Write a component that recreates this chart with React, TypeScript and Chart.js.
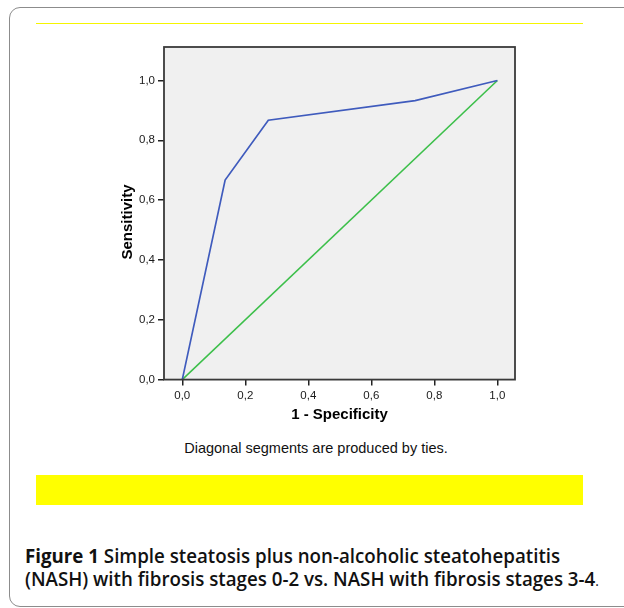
import React, { useEffect, useRef } from "react";
import { Chart, registerables } from "chart.js";

Chart.register(...registerables);

// ---- data ----
const rocFpr = [0, 0.136, 0.273, 0.739, 1.0];
const rocTpr = [0, 0.667, 0.867, 0.933, 1.0];
const refFpr = [0, 1.0];
const refTpr = [0, 1.0];
const tickValues = [0, 0.2, 0.4, 0.6, 0.8, 1.0];
const tickLabels = ["0,0", "0,2", "0,4", "0,6", "0,8", "1,0"];
const xTitle = "1 - Specificity";
const yTitle = "Sensitivity";
const noteText = "Diagonal segments are produced by ties.";
const captionBold = "Figure 1";
const captionLine1 = " Simple steatosis plus non-alcoholic steatohepatitis";
const captionLine2 = "(NASH) with fibrosis stages 0-2 vs. NASH with fibrosis stages 3-4";

const X_MIN = -0.058;
const X_MAX = 1.056;
const Y_MIN = 0;
const Y_MAX = 1.112;

const frameBgPlugin = {
  id: "frameBg",
  beforeDraw(chart: any) {
    const { ctx, chartArea } = chart;
    ctx.save();
    ctx.fillStyle = "#f0f0f0";
    ctx.fillRect(chartArea.left, chartArea.top, chartArea.right - chartArea.left, chartArea.bottom - chartArea.top);
    ctx.restore();
  },
  afterDraw(chart: any) {
    const { ctx, chartArea } = chart;
    ctx.save();
    ctx.strokeStyle = "#3a3a3a";
    ctx.lineWidth = 1.8;
    ctx.strokeRect(chartArea.left, chartArea.top, chartArea.right - chartArea.left, chartArea.bottom - chartArea.top);
    // y axis title
    ctx.fillStyle = "#000";
    ctx.font = "bold 15px 'Liberation Sans', Arial, sans-serif";
    ctx.textAlign = "center";
    ctx.textBaseline = "middle";
    ctx.translate(12.4, 192);
    ctx.rotate(-Math.PI / 2);
    ctx.fillText(yTitle, 0, 0);
    ctx.restore();
  },
};

function RocChart() {
  const ref = useRef<HTMLCanvasElement | null>(null);
  useEffect(() => {
    if (!ref.current) return;
    const setTicks = (scale: any) => {
      scale.ticks = tickValues.map((v) => ({ value: v }));
    };
    const chart = new Chart(ref.current, {
      type: "scatter",
      data: {
        datasets: [
          {
            label: "ROC",
            data: rocFpr.map((x, i) => ({ x, y: rocTpr[i] })),
            showLine: true,
            borderColor: "#3f5bbd",
            borderWidth: 1.7,
            pointRadius: 0,
            tension: 0,
            fill: false,
          },
          {
            label: "Reference",
            data: refFpr.map((x, i) => ({ x, y: refTpr[i] })),
            showLine: true,
            borderColor: "#3cbf4a",
            borderWidth: 1.6,
            pointRadius: 0,
            fill: false,
          },
        ],
      },
      options: {
        animation: false,
        responsive: false,
        maintainAspectRatio: false,
        layout: { padding: { top: 17, right: 20, bottom: 2, left: 0 } },
        plugins: { legend: { display: false }, tooltip: { enabled: false } },
        scales: {
          x: {
            type: "linear",
            min: X_MIN,
            max: X_MAX,
            afterBuildTicks: setTicks,
            afterFit: (s: any) => {
              s.height = 48.4;
            },
            border: { display: false },
            grid: { drawOnChartArea: false, drawTicks: true, tickLength: 6, color: "#222", lineWidth: 1.5 },
            ticks: {
              padding: 3,
              color: "#1a1a1a",
              font: { family: "'Liberation Sans', Arial, sans-serif", size: 11.5 },
              callback: (_v: any, i: number) => tickLabels[i],
              maxRotation: 0,
              autoSkip: false,
            },
            title: {
              display: true,
              text: xTitle,
              color: "#000",
              font: { family: "'Liberation Sans', Arial, sans-serif", size: 15, weight: "bold" },
              padding: { top: 4, bottom: 4 },
            },
          },
          y: {
            type: "linear",
            min: Y_MIN,
            max: Y_MAX,
            afterBuildTicks: setTicks,
            afterFit: (s: any) => {
              s.width = 49;
            },
            border: { display: false },
            grid: { drawOnChartArea: false, drawTicks: true, tickLength: 6, color: "#222", lineWidth: 1.5 },
            ticks: {
              padding: 3,
              color: "#1a1a1a",
              font: { family: "'Liberation Sans', Arial, sans-serif", size: 11.5 },
              callback: (_v: any, i: number) => tickLabels[i],
              autoSkip: false,
            },
          },
        },
      },
      plugins: [frameBgPlugin],
    } as any);
    return () => chart.destroy();
  }, []);
  return (
    <canvas
      ref={ref}
      width={420}
      height={400}
      style={{ position: "absolute", left: 115, top: 30, width: 420, height: 400 }}
    />
  );
}

export default function App() {
  return (
    <div
      style={{
        position: "absolute",
        left: 0,
        top: 0,
        width: 624,
        height: 608,
        background: "#fff",
        overflow: "hidden",
      }}
    >
      <div
        style={{
          position: "absolute",
          left: 9,
          top: 7,
          width: 700,
          height: 600,
          border: "1.5px solid #8c8c8c",
          borderRadius: 11,
          boxSizing: "border-box",
        }}
      />
      <div style={{ position: "absolute", left: 36, top: 23, width: 547, height: 1, background: "#f5f500" }} />
      <RocChart />
      <div
        style={{
          position: "absolute",
          left: 116,
          top: 440,
          width: 400,
          textAlign: "center",
          fontFamily: "'Liberation Sans', Arial, sans-serif",
          fontSize: 14.5,
          lineHeight: "16px",
          color: "#111",
          whiteSpace: "nowrap",
        }}
      >
        {noteText}
      </div>
      <div style={{ position: "absolute", left: 36, top: 475, width: 547, height: 30, background: "#ffff00" }} />
      <div
        style={{
          position: "absolute",
          left: 25,
          top: 545,
          fontFamily: "'Open Sans', 'Noto Sans', sans-serif",
          fontSize: 19,
          lineHeight: "23px",
          fontWeight: 600,
          color: "#111",
          whiteSpace: "nowrap",
          transformOrigin: "left top",
          transform: "scaleX(0.985)",
        }}
      >
        <div>
          <span style={{ fontWeight: 700 }}>{captionBold}</span>
          {captionLine1}
        </div>
        <div>
          {captionLine2}
          <span style={{ fontWeight: 400, fontSize: 14 }}>.</span>
        </div>
      </div>
    </div>
  );
}
